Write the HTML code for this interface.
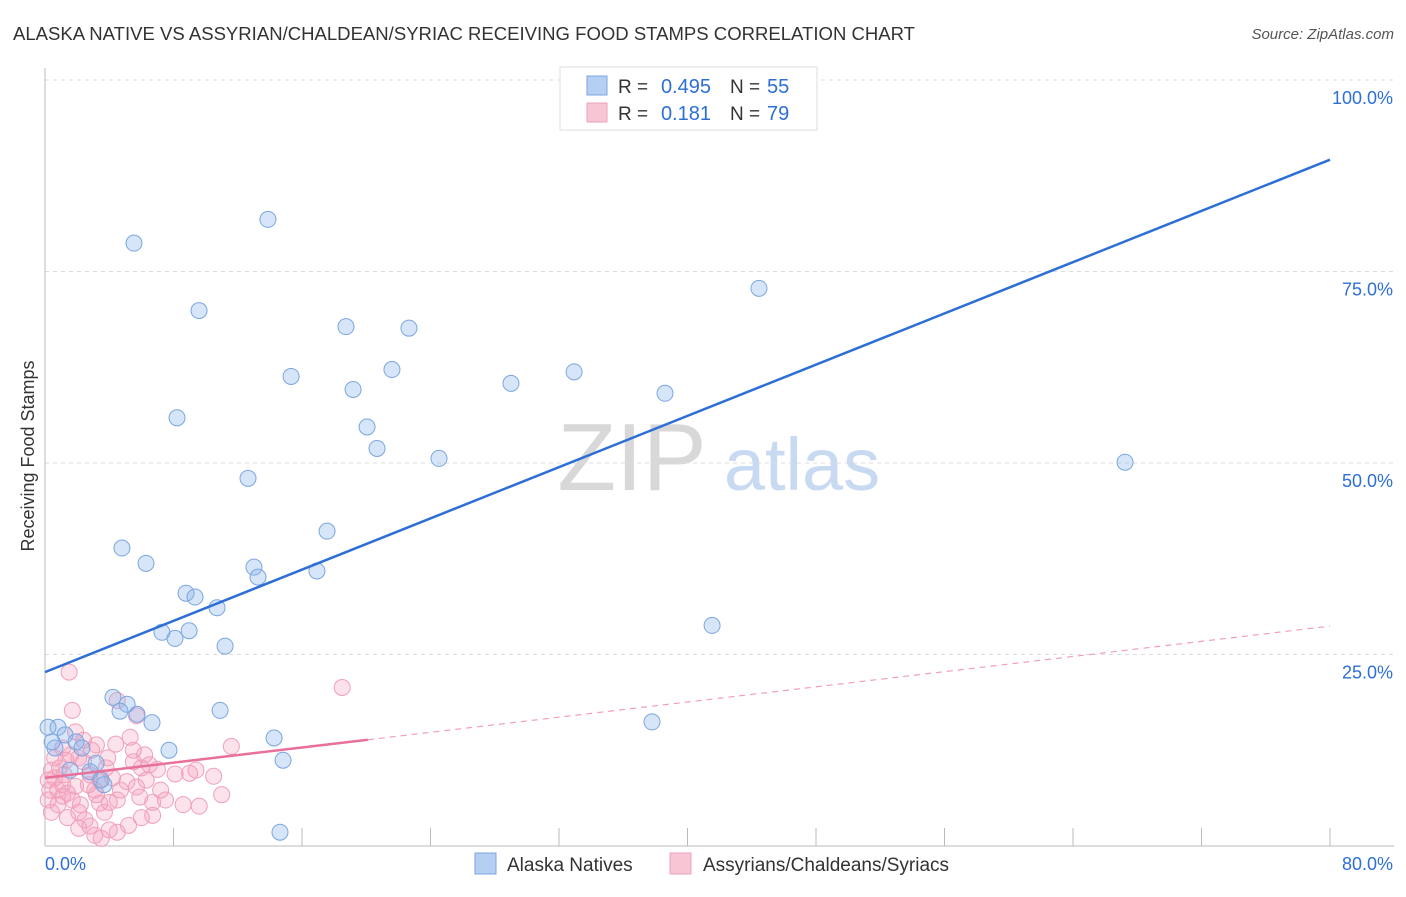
<!DOCTYPE html>
<html><head><meta charset="utf-8"><style>
body{margin:0;background:#fff;font-family:"Liberation Sans",sans-serif;}
svg text{font-family:"Liberation Sans",sans-serif;}
</style></head><body>
<svg id="chart" width="1406" height="892" xmlns="http://www.w3.org/2000/svg">
<text x="13" y="40" font-size="18" fill="#333" textLength="902" lengthAdjust="spacingAndGlyphs">ALASKA NATIVE VS ASSYRIAN/CHALDEAN/SYRIAC RECEIVING FOOD STAMPS CORRELATION CHART</text>
<text x="1394" y="39" font-size="15" fill="#555" font-style="italic" text-anchor="end">Source: ZipAtlas.com</text>
<g>
<text x="632" y="490" font-size="96" fill="#d8d8d8" font-family="Liberation Serif,serif" text-anchor="middle">ZIP</text>
<text x="802" y="490" font-size="74" fill="#c8daf2" text-anchor="middle">atlas</text>
</g>
<g id="grid"></g>
<g id="axes"></g>
<text transform="translate(34,456) rotate(-90)" font-size="18" fill="#333" text-anchor="middle">Receiving Food Stamps</text>
<g id="pts"></g>
<g id="lines"></g>
<g>
<rect x="560" y="67" width="257" height="63" fill="#fff" stroke="#ddd"/>
<rect x="587" y="76" width="20" height="19" fill="#b5cff3" stroke="#7aa6e0"/>
<rect x="587" y="103" width="20" height="19" fill="#f8c5d5" stroke="#f0a0b8"/>
<text x="618" y="93" font-size="19" fill="#333">R =</text>
<text x="711" y="93" font-size="20" fill="#2d6fd6" text-anchor="end">0.495</text>
<text x="730" y="93" font-size="19" fill="#333">N =</text>
<text x="767" y="93" font-size="20" fill="#2d6fd6">55</text>
<text x="618" y="120" font-size="19" fill="#333">R =</text>
<text x="711" y="120" font-size="20" fill="#2d6fd6" text-anchor="end">0.181</text>
<text x="730" y="120" font-size="19" fill="#333">N =</text>
<text x="767" y="120" font-size="20" fill="#2d6fd6">79</text>
</g>
<g>
<rect x="475" y="853" width="21" height="21" fill="#b5cff3" stroke="#7aa6e0"/>
<text x="507" y="871" font-size="19" fill="#333">Alaska Natives</text>
<rect x="670" y="853" width="21" height="21" fill="#f8c5d5" stroke="#f0a0b8"/>
<text x="703" y="871" font-size="19" fill="#333">Assyrians/Chaldeans/Syriacs</text>
</g>
</svg>
<script>
const blueX=[13.88,5.54,9.59,18.74,22.66,15.32,21.6,19.18,29.01,32.94,38.6,44.45,8.22,20.05,20.67,24.53,67.24,12.64,17.56,4.79,6.29,13.01,13.26,16.93,8.78,9.34,10.71,7.28,8.09,8.97,11.21,41.53,4.23,5.11,4.67,5.73,6.66,10.9,0.81,0.19,1.25,1.93,2.3,0.62,7.72,14.26,3.18,14.82,2.8,3.49,3.67,37.79,14.63,1.56,0.44];
const blueY=[81.8,78.7,69.9,67.8,67.6,61.3,62.2,59.6,60.4,61.9,59.1,72.8,55.9,54.7,51.9,50.6,50.1,48.0,41.1,38.9,36.9,36.4,35.1,35.9,33.0,32.5,31.1,27.9,27.1,28.1,26.1,28.8,19.4,18.5,17.6,17.2,16.1,17.7,15.5,15.5,14.5,13.6,12.8,12.8,12.5,14.1,10.8,11.2,9.7,8.6,8.0,16.2,1.8,9.9,13.6];
const pinkX=[1.5,18.5,1.7,4.5,5.7,1.9,4.4,5.3,5.5,11.6,9.4,9.0,10.5,11.0,9.6,7.0,6.0,5.7,6.7,6.0,5.2,4.5,4.0,4.0,4.5,3.4,3.2,3.1,2.8,2.4,2.1,1.3,0.9,0.4,0.2,0.3,0.6,1.1,1.4,1.7,2.2,2.1,2.5,2.8,3.1,3.5,0.8,1.1,0.2,0.6,1.1,1.6,2.4,2.9,3.8,4.2,4.7,5.1,6.3,7.2,8.1,8.6,3.4,2.7,1.9,1.2,0.8,0.4,1.4,2.1,3.7,5.5,6.5,6.2,3.2,3.9,5.9,7.5,6.7];
const pinkY=[22.7,20.7,17.7,19.0,17.0,14.9,13.3,14.2,12.5,13.0,9.9,9.5,9.1,6.7,5.2,10.0,10.2,7.7,5.7,3.7,2.7,1.8,2.1,5.7,6.0,5.6,6.7,7.3,9.3,11.0,11.5,11.2,10.2,9.9,8.6,7.3,8.9,8.0,6.9,6.0,5.4,4.4,3.4,2.6,1.4,1.0,5.4,6.5,6.0,11.5,12.8,11.9,13.8,12.5,10.2,8.9,7.3,8.4,8.6,7.3,9.4,5.4,8.6,8.0,7.8,9.3,7.3,4.4,3.7,2.3,4.4,11.0,10.6,11.9,13.2,11.5,6.4,6.0,4.0];
const blueFit=[22.7,89.6];
const pinkFit=[8.9,28.7];
const pinkSolidEnd=20.1;
const yTicks=[25,50,75,100];
const xTickLabels=["0.0%","80.0%"];

const NS="http://www.w3.org/2000/svg";
const X0=45,X1=1330,Y0=846,Y100=80;
const sx=v=>X0+(v/80)*(X1-X0);
const sy=v=>Y0-(v/100)*(Y0-Y100);
function mk(tag,attrs,parent){const e=document.createElementNS(NS,tag);for(const k in attrs)e.setAttribute(k,attrs[k]);parent.appendChild(e);return e;}
const grid=document.getElementById('grid'),axes=document.getElementById('axes'),pts=document.getElementById('pts'),lines=document.getElementById('lines');
yTicks.forEach(t=>{
  const l=mk('line',{x1:X0,x2:1394,y1:sy(t),y2:sy(t),stroke:'#ddd','stroke-dasharray':'4,4'},grid);
  
  
  const tx=mk('text',{x:1393,y:sy(t)+24,'font-size':18,fill:'#2d6fd6','text-anchor':'end'},axes);
  tx.textContent=t.toFixed(1)+'%';
  
  
});
mk('line',{x1:X0,x2:X0,y1:68,y2:Y0,stroke:'#bbb'},axes);
mk('line',{x1:X0,x2:1394,y1:Y0,y2:Y0,stroke:'#bbb'},axes);
for(let i=0;i<=10;i++){const t=mk('line',{x1:sx(i*8),x2:sx(i*8),y1:828,y2:Y0,stroke:'#bbb'},axes);
  
  }
const xl0=mk('text',{x:45,y:870,'font-size':18,fill:'#2d6fd6'},axes);xl0.textContent=xTickLabels[0];


const xl1=mk('text',{x:1393,y:870,'font-size':18,fill:'#2d6fd6','text-anchor':'end'},axes);xl1.textContent=xTickLabels[1];


pinkX.forEach((v,i)=>{const c=mk('circle',{cx:sx(v),cy:sy(pinkY[i]),r:8,fill:'rgba(244,160,188,0.3)',stroke:'#f0a0b8','stroke-width':1},pts);
  
  });
blueX.forEach((v,i)=>{const c=mk('circle',{cx:sx(v),cy:sy(blueY[i]),r:8,fill:'rgba(140,180,235,0.35)',stroke:'#7aa6e0','stroke-width':1},pts);
  
  });
const pf=x=>pinkFit[0]+(pinkFit[1]-pinkFit[0])*x/80;
const bl=mk('line',{x1:sx(0),y1:sy(blueFit[0]),x2:sx(80),y2:sy(blueFit[1]),stroke:'#2d6fd6','stroke-width':2.5},lines);


const ps=mk('line',{x1:sx(0),y1:sy(pf(0)),x2:sx(pinkSolidEnd),y2:sy(pf(pinkSolidEnd)),stroke:'#e8709a','stroke-width':2.5},lines);


const pd=mk('line',{x1:sx(pinkSolidEnd),y1:sy(pf(pinkSolidEnd)),x2:sx(80),y2:sy(pf(80)),stroke:'#f0a0b8','stroke-width':1.2,'stroke-dasharray':'6,5'},lines);


</script>
</body></html>
